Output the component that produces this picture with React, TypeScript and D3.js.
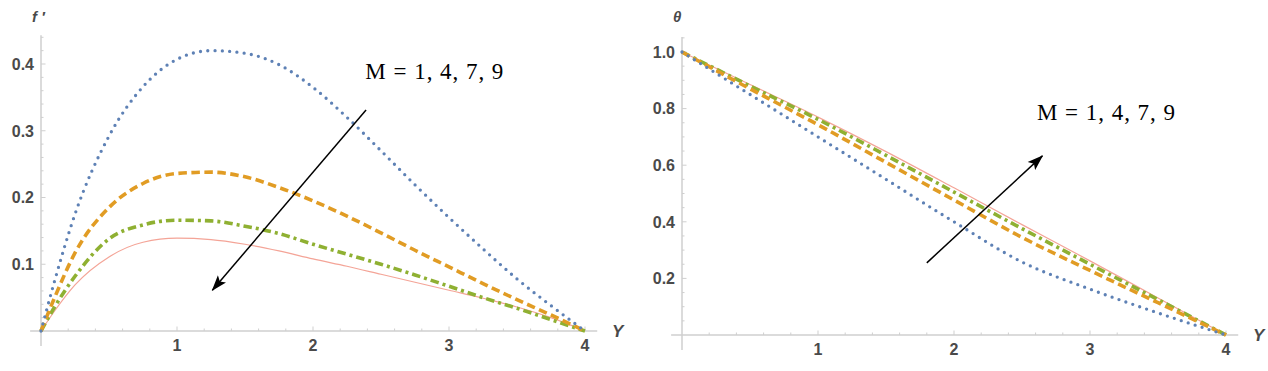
import React, { useEffect, useRef } from "react";
import * as d3 from "d3";

// Y positions shared by every curve in a panel
const fpGrid = [0, 0.1, 0.25, 0.5, 0.75, 1, 1.25, 1.5, 1.75, 2, 2.25, 2.5, 2.75, 3, 3.25, 3.5, 3.75, 4];
const fpM1 = [0, 0.075, 0.175, 0.292, 0.366, 0.407, 0.42, 0.416, 0.399, 0.365, 0.32, 0.27, 0.219, 0.17, 0.123, 0.078, 0.038, 0];
const fpM4 = [0, 0.05, 0.117, 0.185, 0.221, 0.236, 0.238, 0.231, 0.215, 0.195, 0.172, 0.147, 0.121, 0.096, 0.071, 0.047, 0.024, 0];
const fpM7 = [0, 0.036, 0.082, 0.138, 0.159, 0.166, 0.165, 0.157, 0.146, 0.13, 0.115, 0.1, 0.084, 0.067, 0.05, 0.034, 0.017, 0];
const fpM9 = [0, 0.03, 0.069, 0.111, 0.133, 0.139, 0.137, 0.13, 0.12, 0.108, 0.097, 0.085, 0.073, 0.061, 0.049, 0.036, 0.02, 0];

const thGrid = [0, 0.5, 1, 1.5, 2, 2.5, 3, 3.5, 4];
const thM1 = [1, 0.85, 0.7, 0.55, 0.4, 0.258, 0.162, 0.078, 0];
const thM4 = [1, 0.87, 0.743, 0.61, 0.477, 0.345, 0.228, 0.114, 0];
const thM7 = [1, 0.88, 0.762, 0.635, 0.505, 0.376, 0.25, 0.125, 0];
const thM9 = [1, 0.885, 0.77, 0.648, 0.52, 0.39, 0.262, 0.131, 0];

const xTicks = [1, 2, 3, 4];
const fpTicks = [0.1, 0.2, 0.3, 0.4];
const thTicks = [0.2, 0.4, 0.6, 0.8, 1.0];
const legendText = "M = 1, 4, 7, 9";

const colors = ["#5e81b5", "#e19c24", "#8fb032", "#f4a497"];
const styles = [
  { dash: "0 7.3", w: 3.3, cap: "round" },
  { dash: "8.5 4.5", w: 3.6, cap: "butt" },
  { dash: "8.5 4 3 4", w: 3.6, cap: "butt" },
  { dash: null, w: 1.2, cap: "butt" },
];

const App = () => {
  const ref = useRef();

  useEffect(() => {
    const svg = d3.select(ref.current);
    svg.selectAll("*").remove();

    svg
      .append("defs")
      .append("marker")
      .attr("id", "head")
      .attr("markerUnits", "userSpaceOnUse")
      .attr("viewBox", "0 0 16 12")
      .attr("refX", 15)
      .attr("refY", 6)
      .attr("markerWidth", 16)
      .attr("markerHeight", 12)
      .attr("orient", "auto")
      .append("path")
      .attr("d", "M0,0.5 L16,6 L0,11.5 L3.5,6 Z")
      .attr("fill", "black");

    const drawPanel = (cfg) => {
      const x = d3.scaleLinear().domain([0, 4]).range(cfg.xr);
      const y = d3.scaleLinear().domain(cfg.yd).range(cfg.yr);
      const g = svg.append("g");
      const axisCol = "#cfcfcf";
      const txtCol = "#4a4a4a";
      const sans = "Liberation Sans, Arial, sans-serif";

      // axes
      g.append("line")
        .attr("x1", x(-0.08)).attr("x2", x(4.09))
        .attr("y1", y(0)).attr("y2", y(0))
        .attr("stroke", axisCol).attr("stroke-width", 1.5);
      g.append("line")
        .attr("x1", x(0)).attr("x2", x(0))
        .attr("y1", y(0) + 15).attr("y2", y(cfg.yTop))
        .attr("stroke", axisCol).attr("stroke-width", 1.5);

      // x ticks
      d3.range(0.2, 4.01, 0.2).forEach((v) => {
        const major = Math.abs(v - Math.round(v)) < 1e-6;
        g.append("line")
          .attr("x1", x(v)).attr("x2", x(v))
          .attr("y1", y(0)).attr("y2", y(0) - (major ? 4.5 : 2.5))
          .attr("stroke", axisCol).attr("stroke-width", 1);
      });
      g.selectAll(".xl")
        .data(xTicks)
        .join("text")
        .attr("x", (d) => x(d))
        .attr("y", y(0) + 20)
        .attr("text-anchor", "middle")
        .attr("font-family", sans)
        .attr("font-weight", "bold")
        .attr("font-size", 16)
        .attr("fill", txtCol)
        .text((d) => d);

      // y ticks
      d3.range(cfg.minor, cfg.yTop, cfg.minor).forEach((v) => {
        const major = cfg.ticks.some((t) => Math.abs(t - v) < 1e-6);
        g.append("line")
          .attr("x1", x(0)).attr("x2", x(0) + (major ? 4.5 : 2.5))
          .attr("y1", y(v)).attr("y2", y(v))
          .attr("stroke", axisCol).attr("stroke-width", 1);
      });
      g.selectAll(".yl")
        .data(cfg.ticks)
        .join("text")
        .attr("x", x(0) - 7)
        .attr("y", (d) => y(d))
        .attr("dy", "0.36em")
        .attr("text-anchor", "end")
        .attr("font-family", sans)
        .attr("font-weight", "bold")
        .attr("font-size", 16)
        .attr("fill", txtCol)
        .text((d) => d3.format(".1f")(d));

      // axis labels
      g.append("text")
        .attr("x", x(0) - 9).attr("y", 22)
        .attr("font-family", sans)
        .attr("font-style", "italic").attr("font-weight", "bold")
        .attr("font-size", 15).attr("fill", txtCol)
        .text(cfg.yLabel);
      g.append("text")
        .attr("x", x(4) + 27).attr("y", y(0) + 6)
        .attr("font-family", sans)
        .attr("font-style", "italic").attr("font-weight", "bold")
        .attr("font-size", 17).attr("fill", txtCol)
        .text("Y");

      // curves, drawn from the last so the dotted one sits on top
      const line = d3
        .line()
        .x((d) => x(d[0]))
        .y((d) => y(d[1]))
        .curve(d3.curveMonotoneX);
      [3, 2, 1, 0].forEach((i) => {
        const pts = cfg.grid.map((v, k) => [v, cfg.series[i][k]]);
        g.append("path")
          .attr("d", line(pts))
          .attr("fill", "none")
          .attr("stroke", colors[i])
          .attr("stroke-width", styles[i].w)
          .attr("stroke-linecap", styles[i].cap)
          .attr("stroke-dasharray", styles[i].dash);
      });

      // arrow and legend text
      g.append("line")
        .attr("x1", x(cfg.arrow[0])).attr("y1", y(cfg.arrow[1]))
        .attr("x2", x(cfg.arrow[2])).attr("y2", y(cfg.arrow[3]))
        .attr("stroke", "black").attr("stroke-width", 1.5)
        .attr("marker-end", "url(#head)");
      g.append("text")
        .attr("x", x(cfg.label[0])).attr("y", y(cfg.label[1]))
        .attr("font-family", "Liberation Serif, Times New Roman, serif")
        .attr("font-size", 23)
        .attr("textLength", 138)
        .attr("lengthAdjust", "spacing")
        .attr("fill", "black")
        .text(legendText);
    };

    drawPanel({
      xr: [41, 585],
      yd: [0, 0.4],
      yr: [331, 64],
      yTop: 0.443,
      minor: 0.02,
      ticks: fpTicks,
      yLabel: "f \u2032",
      grid: fpGrid,
      series: [fpM1, fpM4, fpM7, fpM9],
      arrow: [2.39, 0.331, 1.26, 0.061],
      label: [2.385, 0.378],
    });

    drawPanel({
      xr: [682, 1226],
      yd: [0, 1],
      yr: [335, 52],
      yTop: 1.053,
      minor: 0.05,
      ticks: thTicks,
      yLabel: "\u03b8",
      grid: thGrid,
      series: [thM1, thM4, thM7, thM9],
      arrow: [1.8, 0.255, 2.65, 0.633],
      label: [2.61, 0.76],
    });
  }, []);

  return (
    <svg
      ref={ref}
      width={1268}
      height={371}
      style={{ position: "absolute", left: 0, top: 0, background: "white" }}
    />
  );
};

export default App;
